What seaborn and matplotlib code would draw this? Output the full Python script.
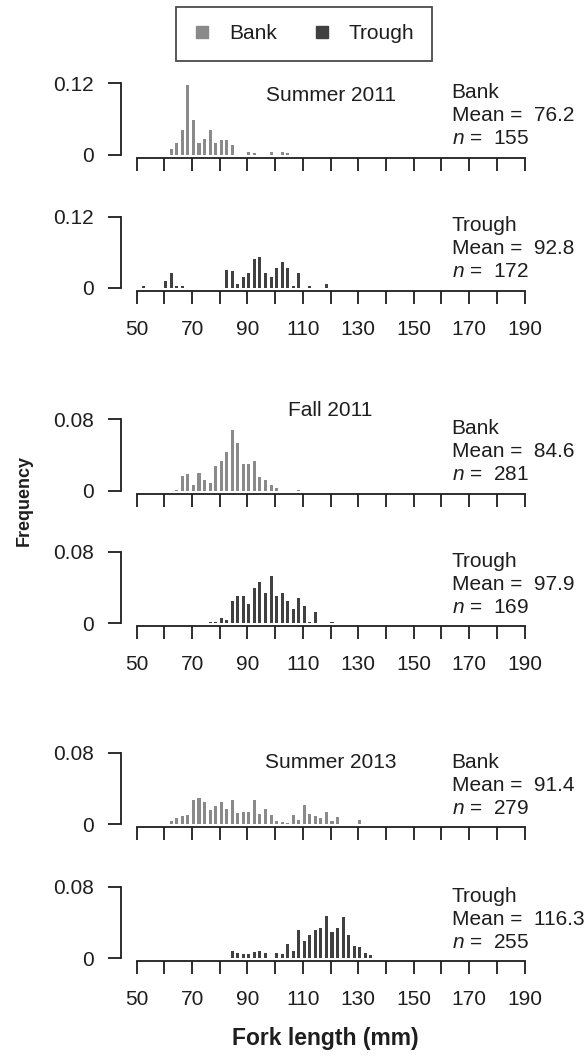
import matplotlib
matplotlib.use("Agg")
import matplotlib.pyplot as plt
import matplotlib.font_manager as fm
from matplotlib.lines import Line2D
import seaborn as sns

# fork length bar positions (mm) and frequencies
s11_bank_len = [62.5, 64.5, 66.5, 68.5, 70.5, 72.5, 74.5, 76.5, 78.5, 80.5, 82.5, 84.5,
                90.5, 92.5, 98.5, 102.5, 104.5]
s11_bank_freq = [0.010, 0.020, 0.042, 0.118, 0.059, 0.020, 0.027, 0.042, 0.020, 0.024, 0.024, 0.017,
                 0.004, 0.002, 0.004, 0.004, 0.002]

s11_trough_len = [52.5, 60.5, 62.5, 64.5, 66.5, 82.5, 84.5, 86.5, 88.5, 90.5, 92.5, 94.5,
                  96.5, 98.5, 100.5, 102.5, 104.5, 106.5, 108.5, 112.5, 118.5]
s11_trough_freq = [0.003, 0.012, 0.025, 0.003, 0.003, 0.031, 0.028, 0.006, 0.018, 0.025, 0.049, 0.052,
                   0.025, 0.018, 0.034, 0.043, 0.034, 0.003, 0.025, 0.003, 0.006]

f11_bank_len = [64.5, 66.5, 68.5, 70.5, 72.5, 74.5, 76.5, 78.5, 80.5, 82.5, 84.5, 86.5,
                88.5, 90.5, 92.5, 94.5, 96.5, 98.5, 100.5, 108.5]
f11_bank_freq = [0.0012, 0.0167, 0.019, 0.0063, 0.020, 0.0115, 0.009, 0.028, 0.033, 0.043, 0.068, 0.053,
                 0.030, 0.030, 0.033, 0.015, 0.012, 0.0063, 0.0026, 0.0012]

f11_trough_len = [76.5, 78.5, 80.5, 82.5, 84.5, 86.5, 88.5, 90.5, 92.5, 94.5, 96.5, 98.5,
                  100.5, 102.5, 104.5, 106.5, 108.5, 110.5, 112.5, 114.5, 120.5]
f11_trough_freq = [0.0012, 0.0012, 0.006, 0.0034, 0.0244, 0.031, 0.031, 0.021, 0.040, 0.046, 0.034, 0.0526,
                   0.031, 0.034, 0.0244, 0.0156, 0.0278, 0.0187, 0.0012, 0.0126, 0.0012]

s13_bank_len = [62.5, 64.5, 66.5, 68.5, 70.5, 72.5, 74.5, 76.5, 78.5, 80.5, 82.5, 84.5,
                86.5, 88.5, 90.5, 92.5, 94.5, 96.5, 98.5, 100.5, 102.5, 104.5, 106.5, 108.5,
                110.5, 112.5, 114.5, 116.5, 118.5, 120.5, 122.5, 130.5]
s13_bank_freq = [0.003, 0.0065, 0.0088, 0.0103, 0.027, 0.029, 0.025, 0.0156, 0.020, 0.025, 0.0175, 0.027,
                 0.0126, 0.0137, 0.0137, 0.027, 0.0118, 0.0175, 0.0103, 0.003, 0.0023, 0.0012,
                 0.0103, 0.005, 0.021, 0.0118, 0.0095, 0.0069, 0.0137, 0.003, 0.0084, 0.0042]

s13_trough_len = [84.5, 86.5, 88.5, 90.5, 92.5, 94.5, 96.5, 100.5, 102.5, 104.5, 106.5, 108.5,
                  110.5, 112.5, 114.5, 116.5, 118.5, 120.5, 122.5, 124.5, 126.5, 128.5, 130.5,
                  132.5, 134.5]
s13_trough_freq = [0.0078, 0.006, 0.0048, 0.0048, 0.0067, 0.0082, 0.0063, 0.0063, 0.0048, 0.0164, 0.0078,
                   0.0316, 0.0197, 0.0257, 0.0316, 0.0339, 0.0476, 0.0294, 0.0339, 0.0458, 0.0257,
                   0.0141, 0.0123, 0.006, 0.004]

seasons = ["Summer 2011", "Fall 2011", "Summer 2013"]
habitats = ["Bank", "Trough"]
means = ["76.2", "92.8", "84.6", "97.9", "91.4", "116.3"]
counts = ["155", "172", "281", "169", "279", "255"]
y_max = [0.12, 0.12, 0.08, 0.08, 0.08, 0.08]
y_max_labels = ["0.12", "0.12", "0.08", "0.08", "0.08", "0.08"]

lengths = [s11_bank_len, s11_trough_len, f11_bank_len, f11_trough_len, s13_bank_len, s13_trough_len]
freqs = [s11_bank_freq, s11_trough_freq, f11_bank_freq, f11_trough_freq, s13_bank_freq, s13_trough_freq]
colors = {"Bank": "#8a8a8a", "Trough": "#404040"}

sns.set_theme(style="ticks")
plt.rcParams["font.family"] = ["Liberation Sans", "DejaVu Sans"]
plt.rcParams["mathtext.fontset"] = "custom"
plt.rcParams["mathtext.it"] = "Liberation Sans:italic"
plt.rcParams["mathtext.rm"] = "Liberation Sans"

installed = {f.name for f in fm.fontManager.ttflist}
label_font = "Liberation Sans Narrow" if "Liberation Sans Narrow" in installed else "Liberation Sans"

W, H = 588, 1057
fig = plt.figure(figsize=(W / 100, H / 100), dpi=100)

ax_left, ax_width, ax_height = 120.6, 420, 77
ax_tops = [80.5, 213.8, 416.5, 549, 750, 884]
title_y = [0.81, None, 1.08, None, 0.84, None]
ink = "#1e1e1e"

for i in range(6):
    habitat = habitats[i % 2]
    ax = fig.add_axes([ax_left / W, 1 - (ax_tops[i] + ax_height) / H, ax_width / W, ax_height / H])
    sns.barplot(x=lengths[i], y=freqs[i], native_scale=True, width=0.55, color=colors[habitat],
                saturation=1, errorbar=None, linewidth=0, ax=ax)
    top = y_max[i]
    ax.set_xlim(44.2, 195.8)
    ax.set_ylim(-0.04 * top, 1.04 * top)
    ticks = list(range(50, 191, 10))
    ax.set_xticks(ticks)
    if i % 2 == 1:
        ax.set_xticklabels([str(t) if (t - 50) % 20 == 0 else "" for t in ticks])
    else:
        ax.set_xticklabels([""] * len(ticks))
    ax.set_yticks([0, top])
    ax.set_yticklabels(["0", y_max_labels[i]])
    ax.set_xlabel("")
    ax.set_ylabel("")
    for side in ["top", "right"]:
        ax.spines[side].set_visible(False)
    for side in ["left", "bottom"]:
        ax.spines[side].set_linewidth(1.3)
        ax.spines[side].set_color(ink)
    ax.spines["left"].set_bounds(0, top)
    ax.spines["bottom"].set_bounds(50, 190)
    ax.tick_params(axis="x", direction="out", length=9, width=1.3, color=ink,
                   labelsize=15, pad=12, labelcolor=ink)
    ax.tick_params(axis="y", direction="out", length=9.5, width=1.3, color=ink,
                   labelsize=15, pad=9.5, labelcolor=ink)

    if title_y[i] is not None:
        ax.text(0.5, title_y[i], seasons[i // 2], transform=ax.transAxes, ha="center", va="center",
                fontsize=15, color=ink)

    lines = [habitat, "Mean =  " + means[i], "$n$ =  " + counts[i]]
    offsets = [62, 39, 16]
    for line, off in zip(lines, offsets):
        ax.annotate(line, xy=(163.7, 0), xycoords="data", xytext=(0, off * 0.72),
                    textcoords="offset points", ha="left", va="center", fontsize=15,
                    color=ink, annotation_clip=False)

handles = [Line2D([], [], marker="s", linestyle="", markersize=8.5, color=colors[h]) for h in habitats]
leg = fig.legend(handles, habitats, loc="center", bbox_to_anchor=(304 / W, 1 - 34 / H), ncol=2,
                 fontsize=15, frameon=True, fancybox=False, edgecolor=ink, handlelength=0.8,
                 handletextpad=0.9, columnspacing=1.75, borderpad=0.85, labelcolor=ink)
leg.get_frame().set_linewidth(1.3)

fig.text(24 / W, 1 - 500 / H, "Frequency", rotation=90, ha="center", va="center",
         fontsize=13, fontweight="bold", family=label_font, color=ink)
fig.text(325 / W, 1 - 1038 / H, "Fork length (mm)", ha="center", va="center",
         fontsize=16.5, fontweight="bold", family=label_font, color=ink)

fig.savefig("out.png", dpi=100)
